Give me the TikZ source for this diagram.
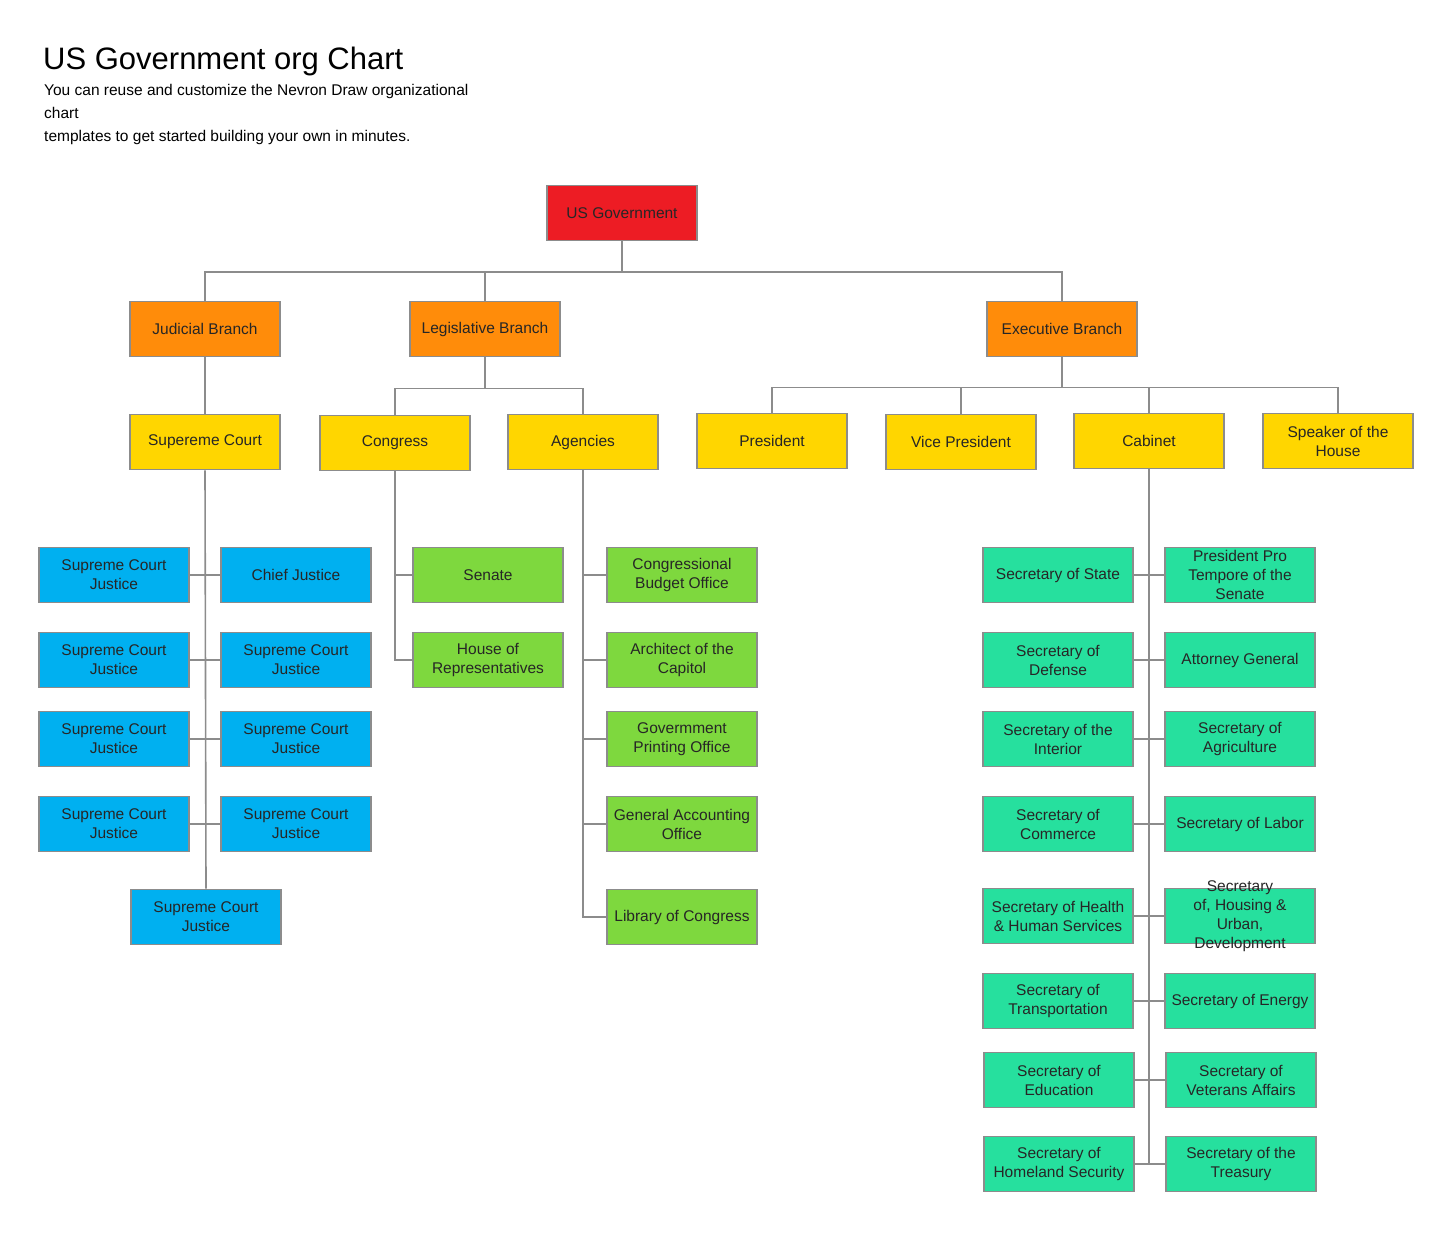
\documentclass[tikz,border=0pt]{standalone}
\usepackage{fontspec}
\setmainfont{Liberation Sans}
\begin{document}
\begin{tikzpicture}[x=1pt,y=-1pt,
 box/.style={draw=black!45,line width=1.6pt,minimum width=150pt,minimum height=55pt,align=center,inner sep=1pt,font=\fontsize{15.5}{19}\selectfont,text=black!85},
 red/.style={box,fill={rgb,255:red,237;green,28;blue,36}},
 org/.style={box,fill={rgb,255:red,255;green,140;blue,10}},
 yel/.style={box,fill={rgb,255:red,255;green,214;blue,0}},
 blu/.style={box,fill={rgb,255:red,0;green,176;blue,240}},
 grn/.style={box,fill={rgb,255:red,126;green,216;blue,62}},
 tea/.style={box,fill={rgb,255:red,38;green,224;blue,158}},
 ln/.style={draw=black!45,line width=1.6pt}]
\useasboundingbox (0,0) rectangle (1453,1233);
\node[anchor=west,inner sep=0pt,font=\fontsize{31}{35}\selectfont] (title) at (43,61) {US Government org Chart};
\node[anchor=north west,align=left,inner sep=0pt,font=\fontsize{15.5}{23}\selectfont] (sub) at (44,84) {You can reuse and customize the Nevron Draw organizational\\chart\\templates to get started building your own in minutes.};
\node[red] (usg) at (622,213) {US Government};
\node[org] (jud) at (205,329) {Judicial Branch};
\node[org] (leg) at (485,329) {Legislative Branch};
\node[org] (exe) at (1062,329) {Executive Branch};
\node[yel] (sc) at (205,442) {Supereme Court};
\node[yel] (cong) at (395,443) {Congress};
\node[yel] (ag) at (583,442) {Agencies};
\node[yel] (pres) at (772,441) {President};
\node[yel] (vp) at (961,442) {Vice President};
\node[yel] (cab) at (1149,441) {Cabinet};
\node[yel] (spk) at (1338,441) {Speaker of the\\House};
\draw[ln] (usg.south) -- ++(0,31) -| (jud.north);
\draw[ln] (usg.south) -- ++(0,31) -| (leg.north);
\draw[ln] (usg.south) -- ++(0,31) -| (exe.north);
\draw[ln] (jud.south) -- (sc.north);
\draw[ln] (leg.south) -- ++(0,31) -| (cong.north);
\draw[ln] (leg.south) -- ++(0,31) -| (ag.north);
\draw[ln] (exe.south) -- ++(0,30) -| (pres.north);
\draw[ln] (exe.south) -- ++(0,30) -| (vp.north);
\draw[ln] (exe.south) -- ++(0,30) -| (cab.north);
\draw[ln] (exe.south) -- ++(0,30) -| (spk.north);
\node[blu] (b1l) at (114,575) {Supreme Court\\Justice};
\node[blu] (b1r) at (296,575) {Chief Justice};
\node[blu] (b2l) at (114,660) {Supreme Court\\Justice};
\node[blu] (b2r) at (296,660) {Supreme Court\\Justice};
\node[blu] (b3l) at (114,739) {Supreme Court\\Justice};
\node[blu] (b3r) at (296,739) {Supreme Court\\Justice};
\node[blu] (b4l) at (114,824) {Supreme Court\\Justice};
\node[blu] (b4r) at (296,824) {Supreme Court\\Justice};
\node[blu] (b5) at (206,917) {Supreme Court\\Justice};
\draw[ln] (sc.south) -- (b5.north);
\foreach \i in {1,2,3,4}{
 \draw[ln] (b\i l.east) -- (b\i r.west);}
\node[grn] (sen) at (488,575) {Senate};
\node[grn] (hor) at (488,660) {House of\\Representatives};
\draw[ln] (cong.south) |- (sen.west);
\draw[ln] (cong.south) |- (hor.west);
\node[grn] (a1) at (682,575) {Congressional\\Budget Office};
\node[grn] (a2) at (682,660) {Architect of the\\Capitol};
\node[grn] (a3) at (682,739) {Govermment\\Printing Office};
\node[grn] (a4) at (682,824) {General Accounting\\Office};
\node[grn] (a5) at (682,917) {Library of Congress};
\foreach \i in {1,...,5}{\draw[ln] (ag.south) |- (a\i.west);}
\node[tea] (c1l) at (1058,575) {Secretary of State};
\node[tea] (c1r) at (1240,575) {President Pro\\Tempore of the\\Senate};
\node[tea] (c2l) at (1058,660) {Secretary of\\Defense};
\node[tea] (c2r) at (1240,660) {Attorney General};
\node[tea] (c3l) at (1058,739) {Secretary of the\\Interior};
\node[tea] (c3r) at (1240,739) {Secretary of\\Agriculture};
\node[tea] (c4l) at (1058,824) {Secretary of\\Commerce};
\node[tea] (c4r) at (1240,824) {Secretary of Labor};
\node[tea] (c5l) at (1058,916) {Secretary of Health\\\& Human Services};
\node[tea] (c5r) at (1240,916) {};
\node[box,draw=none,fill=none] (c5t) at (c5r) {Secretary\\of, Housing \&\\Urban,\\Development};
\node[tea] (c6l) at (1058,1001) {Secretary of\\Transportation};
\node[tea] (c6r) at (1240,1001) {Secretary of Energy};
\node[tea] (c7l) at (1059,1080) {Secretary of\\Education};
\node[tea] (c7r) at (1241,1080) {Secretary of\\Veterans Affairs};
\node[tea] (c8l) at (1059,1164) {Secretary of\\Homeland Security};
\node[tea] (c8r) at (1241,1164) {Secretary of the\\Treasury};
\draw[ln] (cab.south) -- (cab.south |- c8r.west) -- (c8r.west);
\foreach \i in {1,...,7}{\draw[ln] (c\i l.east) -- (c\i r.west);}
\draw[ln] (c8l.east) -- (c8r.west);
\end{tikzpicture}
\end{document}
